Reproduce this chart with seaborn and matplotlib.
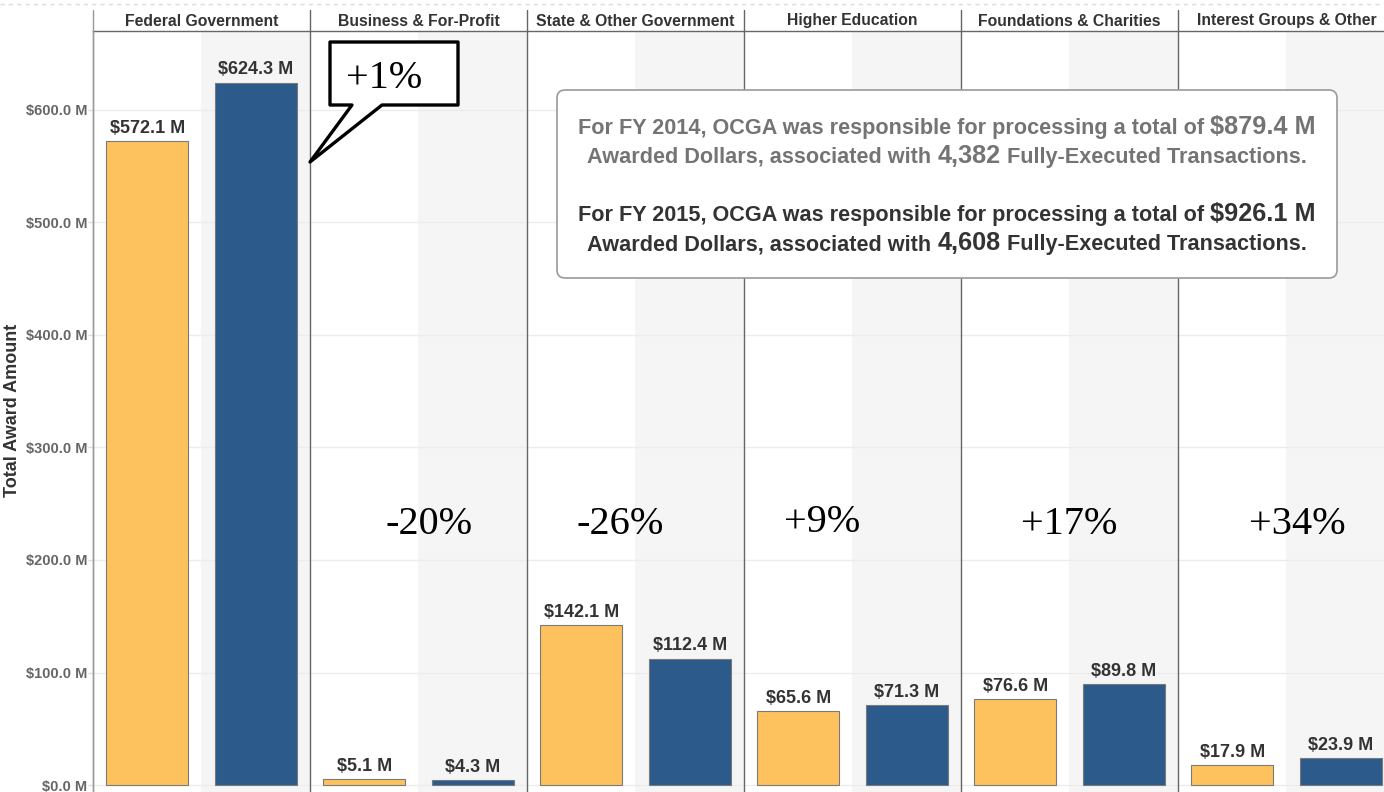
import numpy as np
import pandas as pd
import matplotlib
matplotlib.use("Agg")
import matplotlib.pyplot as plt
import seaborn as sns
from matplotlib.patches import FancyBboxPatch, Polygon
from matplotlib.lines import Line2D
from matplotlib.transforms import IdentityTransform, blended_transform_factory

# ---------------- data ----------------
categories = ["Federal Government", "Business & For-Profit", "State & Other Government",
              "Higher Education", "Foundations & Charities", "Interest Groups & Other"]
years = ["FY 2014", "FY 2015"]
fy2014 = [572.1, 5.1, 142.1, 65.6, 76.6, 17.9]
fy2015 = [624.3, 4.3, 112.4, 71.3, 89.8, 23.9]
pct_labels = ["+1%", "-20%", "-26%", "+9%", "+17%", "+34%"]
y_ticks = [0, 100, 200, 300, 400, 500, 600]
total_2014 = "$879.4 M"
count_2014 = "4,382"
total_2015 = "$926.1 M"
count_2015 = "4,608"

df = pd.DataFrame({
    "category": categories * 2,
    "year": [years[0]] * len(categories) + [years[1]] * len(categories),
    "amount": fy2014 + fy2015,
})

# ---------------- style ----------------
sns.set_theme(style="white")
plt.rcParams['font.family'] = ['Liberation Sans', 'DejaVu Sans']
SERIF = ['Liberation Serif', 'DejaVu Serif']

W, H = 1384, 792
fig = plt.figure(figsize=(W / 100, H / 100), dpi=100)
fig.patch.set_facecolor("white")


def fx(px):
    return px / W


def fy(py):
    return 1 - py / H


AX_L, AX_R, AX_T = 93, 1395, 31
PX_PER_M = 1.125
Y0 = 785
ax = fig.add_axes([fx(AX_L), 0, (AX_R - AX_L) / W, (H - AX_T) / H])

yellow = "#FDC25E"
blue = "#2B5A8B"

# alternating gray bands (right half of each panel)
for i in range(len(categories)):
    ax.axvspan(i, i + 0.5, color="#f5f5f5", lw=0, zorder=0)

sns.barplot(data=df, x="category", y="amount", hue="year", palette=[yellow, blue],
            saturation=1, width=1.0, gap=0.24, edgecolor="#7a7a7a", linewidth=0.8,
            legend=False, ax=ax, zorder=2, errorbar=None)

for cont in ax.containers:
    ax.bar_label(cont, labels=[f"${v:.1f} M" for v in cont.datavalues], padding=3,
                 fontsize=13, fontweight="bold", color="#333333", zorder=3)

ax.set_xlim(-0.5, 5.5)
ax.set_ylim(-(H - Y0) / PX_PER_M, (Y0 - AX_T) / PX_PER_M)
ax.set_xticks([])
ax.set_xlabel("")
ax.set_ylabel("")
ax.set_yticks(y_ticks)
ax.set_yticklabels([f"${v:.1f} M" for v in y_ticks], fontsize=10.5,
                   fontweight="bold", color="#666666")
ax.tick_params(axis="y", length=3.5, width=1, color="#dddddd", pad=0.5, left=True)
ax.set_axisbelow(True)
ax.yaxis.grid(True, color="#ececec", lw=1)
ax.xaxis.grid(False)
for s in ["right", "bottom"]:
    ax.spines[s].set_visible(False)
ax.spines["top"].set_color("#666666")
ax.spines["top"].set_linewidth(1)
ax.spines["left"].set_color("#999999")
ax.spines["left"].set_linewidth(1)

# header labels and separators
blend = blended_transform_factory(ax.transData, fig.transFigure)
for i, c in enumerate(categories):
    ax.text(i, fy(25.5), c, transform=blend, ha="center", va="baseline",
            fontsize=11.3, fontweight="bold", color="#333333", clip_on=False)
for i in range(len(categories)):
    xb = i - 0.5
    col = "#999999" if i == 0 else "#666666"
    ax.add_line(Line2D([xb, xb], [0, fy(10)], transform=blend, color=col, lw=1,
                       clip_on=False, zorder=4))

# y axis title
fig.text(fx(13), fy(410), "Total Award Amount", rotation=90, ha="center", va="center",
         fontsize=13, fontweight="bold", color="#333333")

# dashed top border
fig.add_artist(Line2D([0, 1], [fy(4), fy(4)], transform=fig.transFigure,
                      color="#dcdcdc", lw=1, ls=(0, (3, 3))))

# percent change annotations (categories 1..5)
pct_dx = [0, 0.05, -0.07, -0.14, 0.0, 0.05]
pct_py = [0, 524, 524, 522, 524, 524]
for i in range(1, len(categories)):
    ax.text(i + pct_dx[i], (Y0 - pct_py[i]) / PX_PER_M, pct_labels[i], ha="center",
            va="center", fontsize=29, family=SERIF, color="black", zorder=6)

# callout for the first category
pts = [(330, 42), (458, 42), (458, 105), (382, 105), (310, 162), (352, 105), (330, 105)]
fig.add_artist(Polygon([(fx(x), fy(y)) for x, y in pts], closed=True, fc="white",
                       ec="black", lw=2.4, joinstyle="round",
                       transform=fig.transFigure, zorder=5))
fig.text(fx(384), fy(78), pct_labels[0], ha="center", va="center", fontsize=29,
         family=SERIF, color="black", zorder=6)

# summary text box
ident = IdentityTransform()
box = FancyBboxPatch((557, H - 278), 780, 188, boxstyle="round,pad=0,rounding_size=8",
                     fc="white", ec="#9a9a9a", lw=1.2, transform=ident, zorder=5)
fig.add_artist(box)

renderer = fig.canvas.get_renderer()


def measure(s, size):
    t = fig.text(0, 0, s, fontsize=size, fontweight="bold", transform=ident)
    w = t.get_window_extent(renderer).width
    t.remove()
    return w


def advance(s, size):
    return measure("X" + s + "X", size) - measure("XX", size)


SMALL, BIG = 15.6, 18.2


def draw_line(segs, cx, baseline_py, color):
    space = advance(" ", SMALL)
    widths = [advance(s, sz) for s, sz in segs]
    total = sum(widths) + space * (len(segs) - 1)
    x = cx - total / 2
    for (s, sz), w in zip(segs, widths):
        fig.text(x, H - baseline_py, s, fontsize=sz, fontweight="bold", color=color,
                 ha="left", va="baseline", transform=ident, zorder=6)
        x += w + space


CX = 947
c14, c15 = "#747474", "#333333"
draw_line([("For FY 2014, OCGA was responsible for processing a total of", SMALL),
           (total_2014, BIG)], CX, 134, c14)
draw_line([("Awarded Dollars, associated with", SMALL), (count_2014, BIG),
           ("Fully-Executed Transactions.", SMALL)], CX, 163, c14)
draw_line([("For FY 2015, OCGA was responsible for processing a total of", SMALL),
           (total_2015, BIG)], CX, 221, c15)
draw_line([("Awarded Dollars, associated with", SMALL), (count_2015, BIG),
           ("Fully-Executed Transactions.", SMALL)], CX, 250, c15)

fig.savefig("out.png", dpi=100)
